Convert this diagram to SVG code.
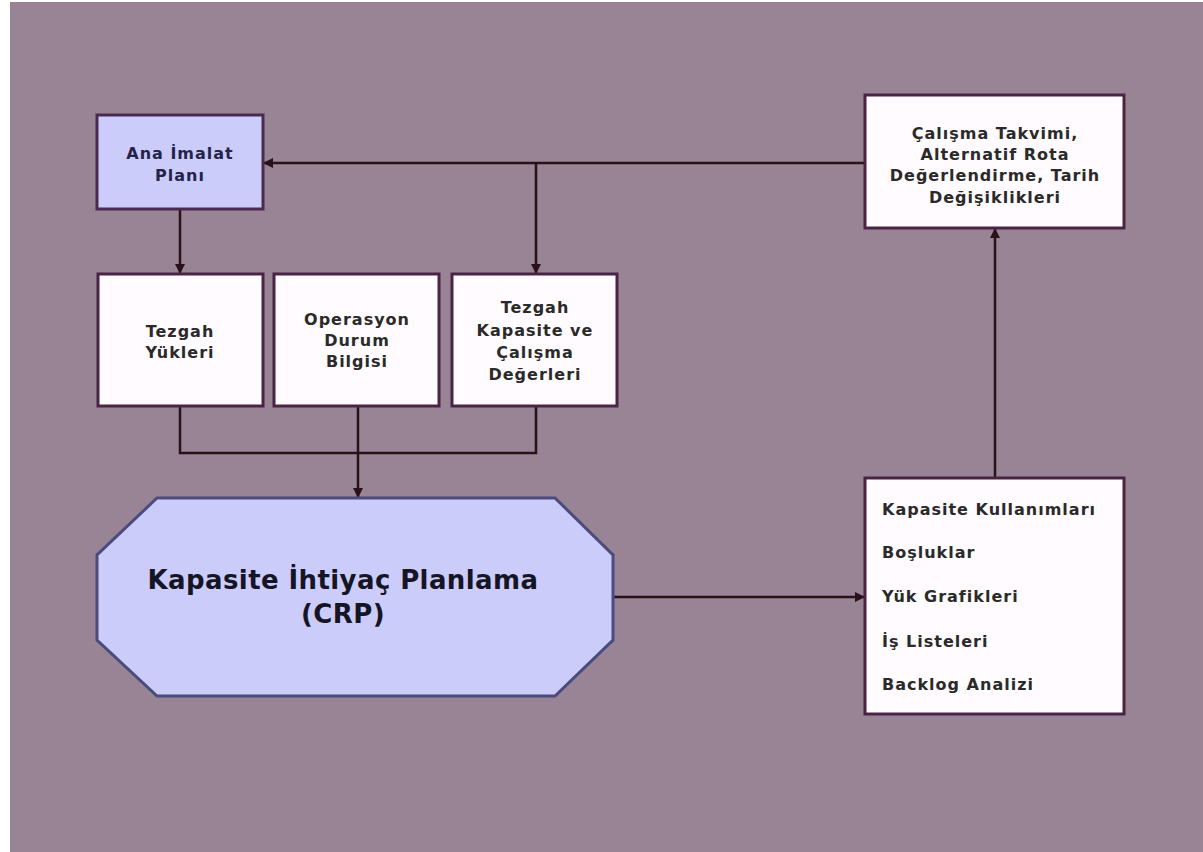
<svg xmlns="http://www.w3.org/2000/svg" width="1203" height="852" viewBox="0 0 1203 852">
<style>
.box{fill:#fffbfe;stroke:#4a2444;stroke-width:3}
.blue{fill:#ccccfb;stroke:#4a2a4e;stroke-width:3}
.t{font-family:"DejaVu Sans","Liberation Sans",sans-serif;font-weight:bold;font-size:16px;letter-spacing:1px;fill:#2a2a2a;text-anchor:middle}
.l{text-anchor:start}
.nav{fill:#24244a}
.big{font-size:26px;letter-spacing:0.4px;fill:#151525}
.c{fill:none;stroke:#2a1018;stroke-width:2.5}
</style>
<defs>
<marker id="ah" viewBox="0 0 10 10" refX="9" refY="5" markerWidth="4" markerHeight="4" orient="auto" markerUnits="strokeWidth">
<path d="M0,0 L10,5 L0,10 z" fill="#2a1018"/>
</marker>
</defs>
<rect x="0" y="0" width="1203" height="852" fill="#ffffff"/>
<rect x="10" y="2" width="1193" height="850" fill="#988494"/>
<g id="connectors">
<path class="c" d="M865,163 H264" marker-end="url(#ah)"/>
<path class="c" d="M536,163 V273" marker-end="url(#ah)"/>
<path class="c" d="M180,209 V273" marker-end="url(#ah)"/>
<path class="c" d="M180,406 V453 H536 V406"/>
<path class="c" d="M358,406 V497" marker-end="url(#ah)"/>
<path class="c" d="M613,597 H864" marker-end="url(#ah)"/>
<path class="c" d="M995,478 V229" marker-end="url(#ah)"/>
</g>
<g id="ana-imalat">
<rect class="blue" x="97" y="115" width="166" height="94"/>
<text class="t nav" x="180" y="159">Ana İmalat</text>
<text class="t nav" x="180" y="181">Planı</text>
</g>
<g id="tezgah-yukleri">
<rect class="box" x="98" y="274" width="165" height="132"/>
<text class="t" x="180" y="337">Tezgah</text>
<text class="t" x="180" y="358">Yükleri</text>
</g>
<g id="operasyon">
<rect class="box" x="274" y="274" width="165" height="132"/>
<text class="t" x="357" y="325">Operasyon</text>
<text class="t" x="357" y="346">Durum</text>
<text class="t" x="357" y="367">Bilgisi</text>
</g>
<g id="tezgah-kapasite">
<rect class="box" x="452" y="274" width="165" height="132"/>
<text class="t" x="535" y="313">Tezgah</text>
<text class="t" x="535" y="336">Kapasite ve</text>
<text class="t" x="535" y="358">Çalışma</text>
<text class="t" x="535" y="380">Değerleri</text>
</g>
<g id="calisma-takvimi">
<rect class="box" x="865" y="95" width="259" height="133"/>
<text class="t" x="995" y="139">Çalışma Takvimi,</text>
<text class="t" x="995" y="160">Alternatif Rota</text>
<text class="t" x="995" y="181">Değerlendirme, Tarih</text>
<text class="t" x="995" y="203">Değişiklikleri</text>
</g>
<g id="crp">
<polygon class="blue" points="157,498 555,498 613,555 613,640 555,696 157,696 97,640 97,555" style="stroke:#4b4b7e"/>
<text class="t big" x="343" y="589">Kapasite İhtiyaç Planlama</text>
<text class="t big" x="343" y="623">(CRP)</text>
</g>
<g id="ciktilar">
<rect class="box" x="865" y="478" width="259" height="236"/>
<text class="t l" x="882" y="515">Kapasite Kullanımları</text>
<text class="t l" x="882" y="558">Boşluklar</text>
<text class="t l" x="882" y="602">Yük Grafikleri</text>
<text class="t l" x="882" y="647">İş Listeleri</text>
<text class="t l" x="882" y="690">Backlog Analizi</text>
</g>
</svg>
